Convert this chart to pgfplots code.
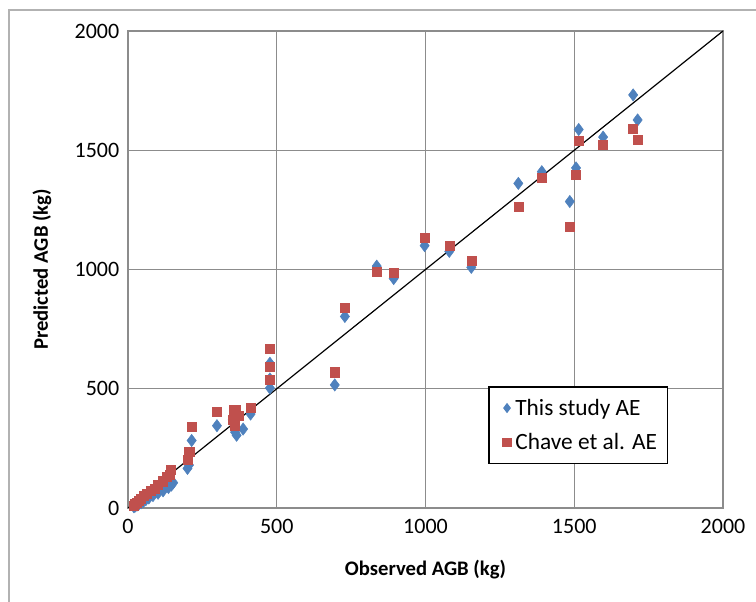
\documentclass[border=0pt]{standalone}
\usepackage{pgfplots}
\pgfplotsset{compat=1.18}
\usepackage{fontspec}
\setmainfont{Carlito}
\definecolor{exblue}{HTML}{4F81BD}
\definecolor{exred}{HTML}{C0504D}
\definecolor{gridgray}{HTML}{8C8C8C}
\begin{document}
\begin{tikzpicture}
\useasboundingbox (-96pt,-70.5pt) rectangle (471pt,381pt);
\draw[gray!60, line width=0.8pt] (-89.25pt,-120pt) -- (-89.25pt,373.5pt) -- (520pt,373.5pt);
\begin{axis}[
  at={(0,0)}, anchor=south west,
  scale only axis, width=446.25pt, height=357.75pt,
  xmin=0, xmax=2000, ymin=0, ymax=2000,
  xtick={0,500,...,2000}, ytick={0,500,...,2000},
  grid=major, major grid style={gridgray, line width=0.9pt},
  axis line style={gridgray, line width=0.9pt},
  major tick length=0pt,
  /pgf/number format/assume math mode=true,
  /pgf/number format/1000 sep={},
  tick label style={font=\fontsize{16.5}{19}\selectfont},
  xticklabel style={yshift=-5pt},
  yticklabel style={xshift=-3pt},
  xlabel={Observed AGB (kg)}, ylabel={Predicted AGB (kg)},
  label style={font=\fontsize{15.5}{18}\selectfont\bfseries},
  xlabel style={at={(axis description cs:0.5,-0.13)}, anchor=center},
  ylabel style={at={(axis description cs:-0.1445,0.5)}, anchor=center},
  legend style={at={(axis cs:1210,511)}, anchor=north west, draw=black, line width=1.2pt,
    fill=white, font=\fontsize{17.5}{20}\selectfont, row sep=8pt, inner xsep=6pt, inner ysep=7pt},
  legend cell align=left,
  legend image code/.code={\path[draw=none, fill=none] (0cm,0cm) -- (0.42cm,0cm); \draw[#1, mark size=2.9pt] plot coordinates {(0.27cm,0cm)};},
]
\addplot[only marks, mark=diamond*, mark size=4.6pt, color=exblue, mark options={fill=exblue, draw=exblue}] coordinates {
(1698,1732)(1713,1627)(1515,1587)(1597,1555)(1506,1426)(1391,1410)(1312,1361)(1485,1285)
(997,1100)(1080,1076)(1154,1009)(836,1014)(893,962)(729,803)(695,516)
(477,607)(477,541)(477,503)(412,394)(387,331)(365,305)(360,318)(352,370)(299,345)
(214,283)(205,180)(200,166)(152,106)(146,96)(136,86)(118,72)(101,62)(84,52)(70,42)
(60,35)(52,28)(44,22)(36,16)(30,12)(24,8)(20,5)
};
\addlegendentry{This study AE}
\addplot[only marks, mark=square*, mark size=3.4pt, color=exred, mark options={fill=exred, draw=exred}] coordinates {
(1696,1590)(1713,1544)(1515,1541)(1597,1524)(1506,1396)(1391,1386)(1312,1264)(1485,1181)
(997,1133)(1080,1100)(1154,1035)(836,990)(893,986)(729,839)(695,569)
(477,667)(477,594)(477,537)(412,420)(372,386)(362,410)(355,410)(360,345)(352,370)(299,403)
(214,340)(206,234)(200,204)(143,160)(140,141)(130,130)(118,112)(101,98)(90,80)(76,72)
(62,60)(52,52)(44,38)(36,30)(30,22)(24,16)(20,10)
};
\addlegendentry{Chave et al. AE}
\addplot[black, line width=0.9pt, forget plot] coordinates {(0,0)(2000,2000)};
\end{axis}
\end{tikzpicture}
\end{document}
